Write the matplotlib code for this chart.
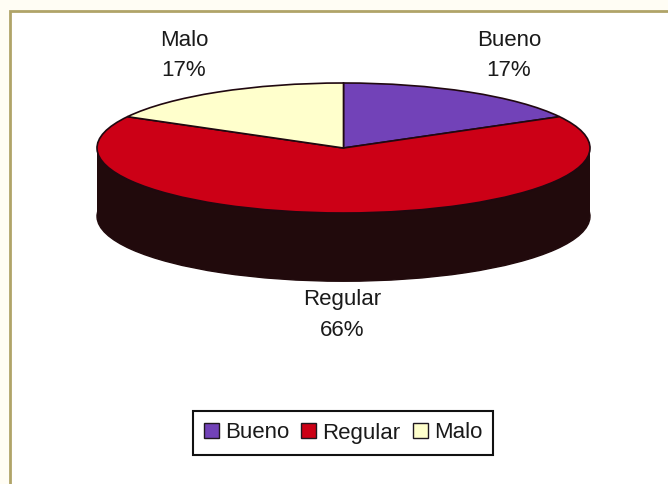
import matplotlib
matplotlib.use('Agg')
import matplotlib.pyplot as plt
from matplotlib.patches import Rectangle, Patch

categories = ['Bueno', 'Regular', 'Malo']
values = [17, 66, 17]
percent_labels = ['17%', '66%', '17%']
colors = ['#7242b8', '#cc0016', '#ffffcc']
wall_color = '#210a0c'
W, H = 668, 484

plt.rcParams['font.family'] = ['Liberation Sans', 'DejaVu Sans']

fig = plt.figure(figsize=(W / 100, H / 100), dpi=100, facecolor='#fffdf4')

# page frame, has to sit below the axes
fig.add_artist(Rectangle((10 / W, -0.02), 1.02, 1.02 - 11 / H, transform=fig.transFigure,
                         facecolor='white', edgecolor='#b0a468', linewidth=2, zorder=-1))

# axes spans the top ellipse: x 97-590, y 83-213 px
ax = fig.add_axes([97 / W, 1 - 213 / H, 493 / W, 130 / H])
depth = 1.05

# bottom of the cylinder, then the wall, then the top
ax.pie(values, colors=[wall_color] * 3, startangle=90, counterclock=False,
       center=(0, -depth), radius=1, wedgeprops={'edgecolor': wall_color, 'linewidth': 1})
ax.bar(0, depth, width=2, bottom=-depth, color=wall_color, zorder=0.5)
ax.pie(values, colors=colors, startangle=90, counterclock=False,
       radius=1, wedgeprops={'edgecolor': '#200810', 'linewidth': 1.2})
ax.set_aspect('auto')
ax.set_xlim(-1, 1)
ax.set_ylim(-1, 1)
ax.axis('off')
for art in ax.patches:
    art.set_clip_on(False)

# labels
label_pos = [(509, 40, 70), (342, 299, 330), (184, 40, 70)]
for cat, pct, (x, y1, y2) in zip(categories, percent_labels, label_pos):
    fig.text(x / W, 1 - y1 / H, cat, ha='center', va='center', fontsize=16, color='#1a1a1a')
    fig.text(x / W, 1 - y2 / H, pct, ha='center', va='center', fontsize=16, color='#1a1a1a')

# legend
handles = [Patch(facecolor=c, edgecolor='#201820', linewidth=1) for c in colors]
leg = fig.legend(handles, categories, ncol=3, loc='center',
                 bbox_to_anchor=(343 / W, 1 - 433 / H), fontsize=16, frameon=True,
                 fancybox=False, edgecolor='#111111', framealpha=1,
                 handlelength=0.68, handleheight=0.68, handletextpad=0.27, columnspacing=0.55,
                 borderpad=0.5, borderaxespad=0, labelcolor='#1a1a1a')
leg.get_frame().set_linewidth(1.5)

fig.savefig('out.png', dpi=100, facecolor=fig.get_facecolor())
